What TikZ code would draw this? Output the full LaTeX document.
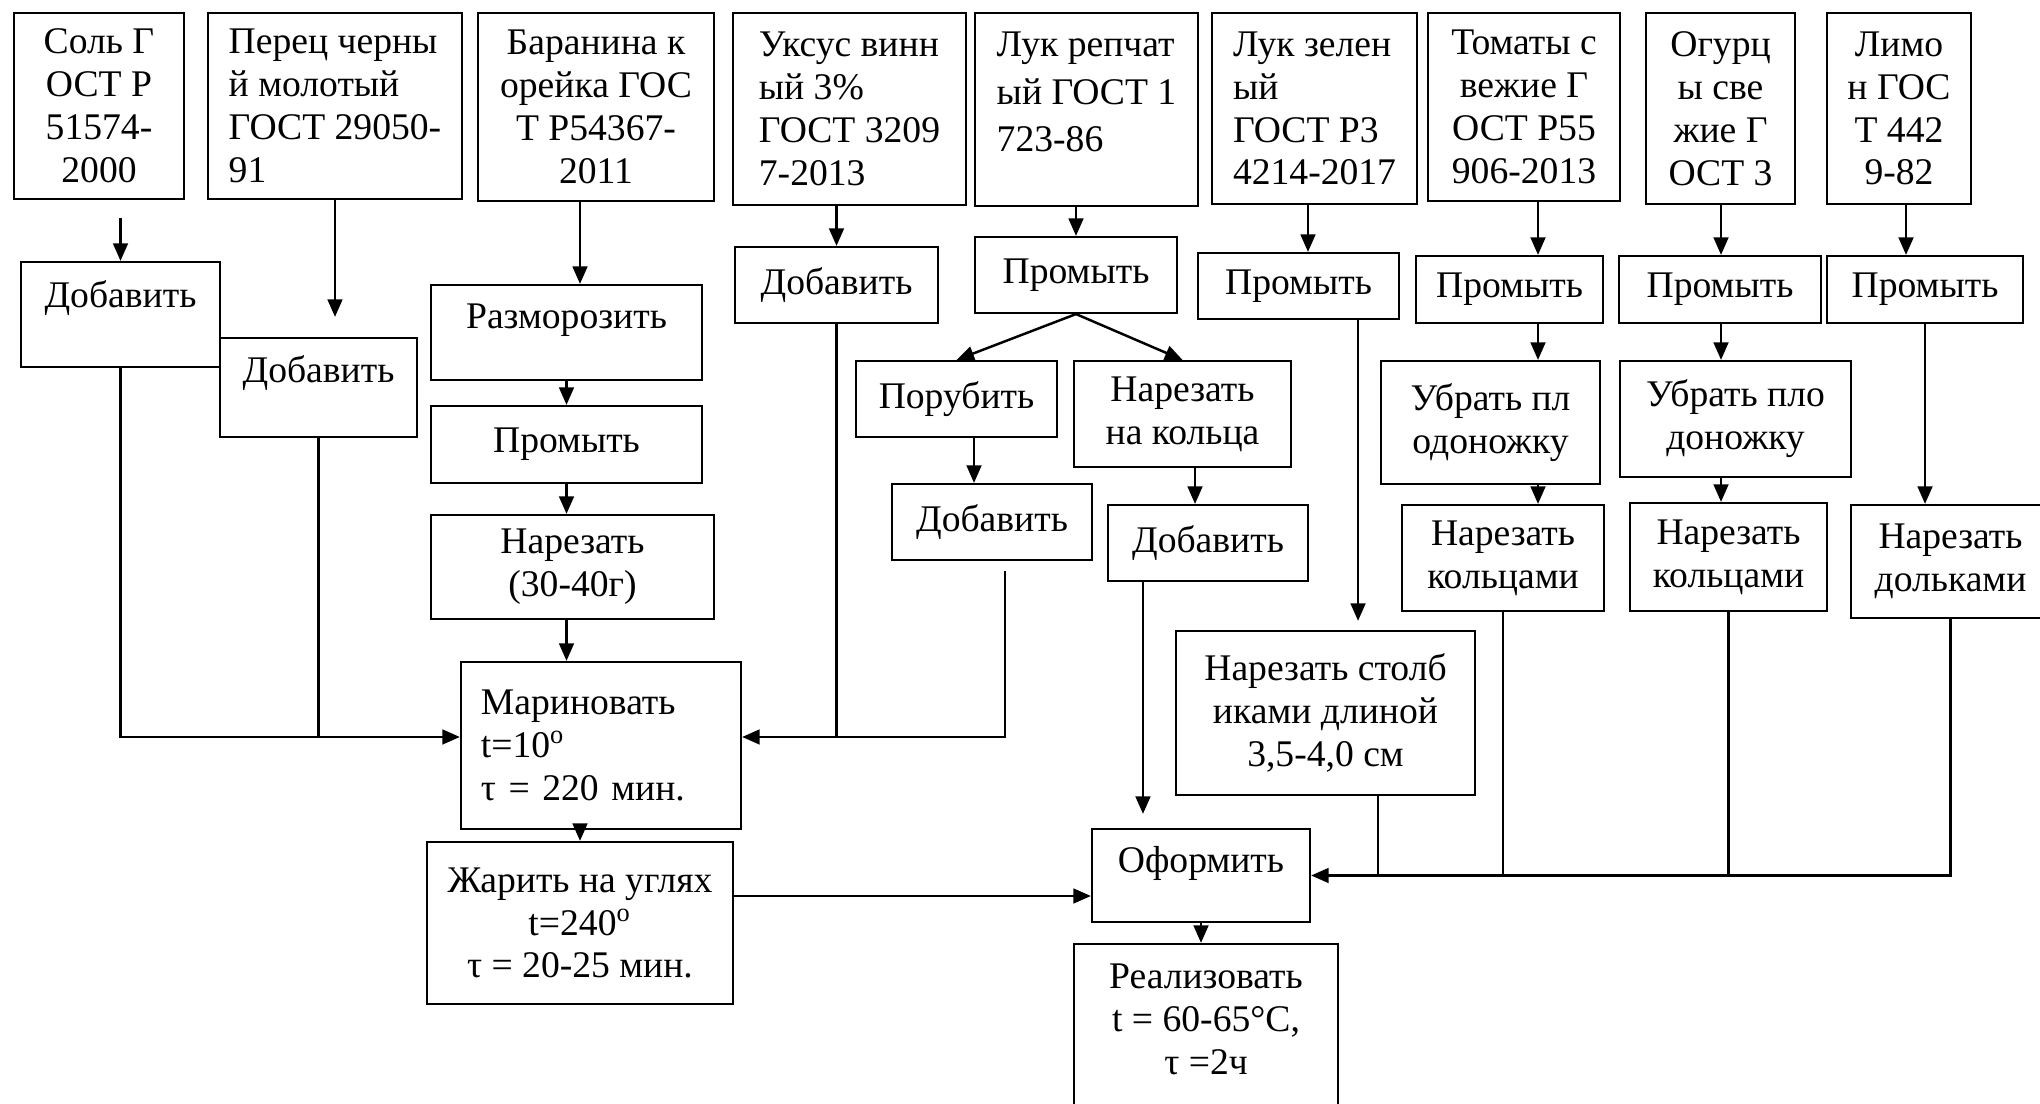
\documentclass[tikz,border=0pt]{standalone}
\usepackage{fontspec}
\setmainfont{Liberation Serif}
\usepackage{tikz}
\usetikzlibrary{arrows.meta}

\begin{document}
\begin{tikzpicture}[
    x=0.01cm, y=-0.01cm,
    >={Triangle[length=5pt, width=4.2pt]},
    stepbox/.style={draw, line width=0.6pt, align=center, inner sep=2pt,
        font=\fontsize{10.7pt}{12.2pt}\selectfont},
    topalign/.style={text height=0.26cm, text depth=#1},
    flow/.style={->, line width=0.7pt},
    joinline/.style={line width=0.6pt}
]
    \useasboundingbox (0,0) rectangle (2040,1104);

    \node[stepbox, minimum width=1.70cm, minimum height=1.86cm] (salt) at (99,106)
        {Соль Г\\ОСТ Р\\51574-\\2000};
    \node[stepbox, align=left, minimum width=2.54cm, minimum height=1.86cm] (pepper) at (335,106)
        {Перец черны\\й молотый\\ГОСТ 29050-\\91};
    \node[stepbox, minimum width=2.36cm, minimum height=1.88cm] (lamb) at (596,107)
        {Баранина к\\орейка ГОС\\Т Р54367-\\2011};
    \node[stepbox, align=left, minimum width=2.33cm, minimum height=1.92cm] (vinegar) at (849.5,109)
        {Уксус винн\\ый 3\%\\ГОСТ 3209\\7-2013};
    \node[stepbox, align=left, minimum width=2.23cm, minimum height=1.93cm,
        font=\fontsize{10.7pt}{13.5pt}\selectfont] (onion) at (1086.5,109.5)
        {Лук репчат\\ый ГОСТ 1\\723-86\\[-0.12cm]\mbox{}};
    \node[stepbox, align=left, minimum width=2.05cm, minimum height=1.91cm] (greenonion) at (1314.5,108.5)
        {Лук зелен\\ый\\ГОСТ Р3\\4214-2017};
    \node[stepbox, minimum width=1.92cm, minimum height=1.88cm] (tomato) at (1524,107)
        {Томаты с\\вежие Г\\ОСТ Р55\\906-2013};
    \node[stepbox, minimum width=1.49cm, minimum height=1.91cm] (cucumber) at (1720.5,108.5)
        {Огурц\\ы све\\жие Г\\ОСТ 3};
    \node[stepbox, minimum width=1.44cm, minimum height=1.91cm] (lemon) at (1899,108.5)
        {Лимо\\н ГОС\\Т 442\\9-82};

    \node[stepbox, topalign=0.39cm, minimum width=1.99cm, minimum height=1.05cm] (addsalt) at (120.5,314.5) {Добавить};
    \node[stepbox, topalign=0.35cm, minimum width=1.97cm, minimum height=0.99cm] (addpepper) at (318.5,387.5) {Добавить};
    \node[stepbox, topalign=0.33cm, minimum width=2.71cm, minimum height=0.95cm] (thaw) at (566.5,332.5) {Разморозить};
    \node[stepbox, minimum width=2.71cm, minimum height=0.77cm] (washlamb) at (566.5,444.5) {Промыть};
    \node[stepbox, minimum width=2.83cm, minimum height=1.04cm] (cutlamb) at (572.5,567) {Нарезать\\(30-40г)};
    \node[stepbox, align=left, text width=2.40cm, inner xsep=0.20cm, minimum height=1.67cm] (marinate) at (601,745.5)
        {Мариновать\\t=10\textsuperscript{o}\\τ = 220 мин.};
    \node[stepbox, minimum width=3.06cm, minimum height=1.62cm] (fry) at (580,923)
        {Жарить на углях\\t=240\textsuperscript{o}\\τ = 20-25 мин.};

    \node[stepbox, minimum width=2.03cm, minimum height=0.76cm] (addvinegar) at (836.5,285) {Добавить};
    \node[stepbox, minimum width=2.02cm, minimum height=0.76cm] (washonion) at (1076,275) {Промыть};
    \node[stepbox, minimum width=2.01cm, minimum height=0.76cm] (chop) at (956.5,399) {Порубить};
    \node[stepbox, minimum width=2.17cm, minimum height=1.06cm] (rings) at (1182.5,414) {Нарезать\\на кольца};
    \node[stepbox, minimum width=2.00cm, minimum height=0.76cm] (addchop) at (992,522) {Добавить};
    \node[stepbox, minimum width=2.00cm, minimum height=0.76cm] (addrings) at (1208,543) {Добавить};
    \node[stepbox, minimum width=2.01cm, minimum height=0.66cm] (washgreen) at (1298.5,286) {Промыть};
    \node[stepbox, minimum width=2.99cm, minimum height=1.64cm] (sticks) at (1325.5,713)
        {Нарезать столб\\иками длиной\\3,5-4,0 см};
    \node[stepbox, topalign=0.31cm, minimum width=2.18cm, minimum height=0.93cm] (decorate) at (1201,875.5) {Оформить};
    \node[stepbox, minimum width=2.64cm, minimum height=1.68cm] (serve) at (1206,1028)
        {Реализовать\\t = 60-65°C,\\τ =2ч\\[-0.25cm]\mbox{}};

    \node[stepbox, minimum width=1.87cm, minimum height=0.67cm] (washtomato) at (1509.5,289.5) {Промыть};
    \node[stepbox, minimum width=2.19cm, minimum height=1.23cm] (stemtomato) at (1490.5,422.5) {Убрать пл\\одоножку};
    \node[stepbox, minimum width=2.02cm, minimum height=1.06cm] (ringstomato) at (1503,558) {Нарезать\\кольцами};
    \node[stepbox, minimum width=2.02cm, minimum height=0.67cm] (washcucumber) at (1720,289.5) {Промыть};
    \node[stepbox, minimum width=2.31cm, minimum height=1.16cm] (stemcucumber) at (1735.5,419) {Убрать пло\\доножку};
    \node[stepbox, minimum width=1.97cm, minimum height=1.08cm] (ringscucumber) at (1728.5,557) {Нарезать\\кольцами};
    \node[stepbox, minimum width=1.96cm, minimum height=0.67cm] (washlemon) at (1925,289.5) {Промыть};
    \node[stepbox, minimum width=1.99cm, minimum height=1.13cm] (sliceslemon) at (1950.5,561.5) {Нарезать\\дольками};

    \coordinate (tomatoaxis) at (1538,0);
    \coordinate (cucumberaxis) at (1721,0);
    \coordinate (lemonaxis) at (1906,0);
    \coordinate (leftjoin) at ([yshift=0.085cm]marinate.west);
    \coordinate (rightjoin) at ([yshift=0.085cm]marinate.east);
    \coordinate (fryjoin) at ([yshift=-0.205cm]decorate.west);
    \coordinate (lambdrop) at ([xshift=0.135cm]thaw.north);
    \coordinate (chopdrop) at ([xshift=0.175cm]chop.south);
    \coordinate (ringsdrop) at ([xshift=0.125cm]rings.south);
    \coordinate (addchopdrop) at ([xshift=0.13cm]addchop.south);
    \coordinate (addringsdrop) at ([xshift=-0.65cm]addrings.south);
    \coordinate (greendrop) at ([xshift=-0.065cm]greenonion.south);
    \coordinate (washgreendrop) at ([xshift=0.595cm]washgreen.south);
    \coordinate (sticksdrop) at ([xshift=0.525cm]sticks.south);

    \draw[flow, shorten <=0.18cm] (salt.south -| addsalt.north) -- (addsalt.north);
    \draw[flow, shorten >=0.2cm] (pepper.south) -- (pepper.south |- addpepper.north);
    \draw[flow] (lambdrop |- lamb.south) -- (lambdrop);
    \draw[flow] (thaw.south) -- (washlamb.north);
    \draw[flow] (washlamb.south) -- (washlamb.south |- cutlamb.north);
    \draw[flow] (washlamb.south |- cutlamb.south) -- (washlamb.south |- marinate.north);
    \draw[flow] (fry.north |- marinate.south) -- (fry.north);
    \draw[flow] (addsalt.south) |- (leftjoin);
    \draw[joinline] (addpepper.south) -- (addpepper.south |- leftjoin);

    \draw[flow] (vinegar.south -| addvinegar.north) -- (addvinegar.north);
    \draw[joinline] (addvinegar.south) -- (addvinegar.south |- rightjoin);
    \draw[flow, shorten <=0.1cm] (addchopdrop) |- (rightjoin);
    \draw[flow] (onion.south -| washonion.north) -- (washonion.north);
    \draw[flow] (washonion.south) -- (chop.north);
    \draw[flow] (washonion.south) -- (rings.north);
    \draw[flow] (chopdrop) -- (chopdrop |- addchop.north);
    \draw[flow] (ringsdrop) -- (ringsdrop |- addrings.north);
    \draw[flow, shorten >=0.14cm] (addringsdrop) -- (addringsdrop |- decorate.north);
    \draw[flow] (fry.east |- fryjoin) -- (fryjoin);
    \draw[flow] (decorate.south) -- (decorate.south |- serve.north);

    \draw[flow] (greendrop) -- (greendrop |- washgreen.north);
    \draw[flow, shorten >=0.09cm] (washgreendrop) -- (washgreendrop |- sticks.north);
    \draw[joinline] (sticksdrop) -- (sticksdrop |- decorate.east);

    \draw[flow] (tomato.south -| tomatoaxis) -- (washtomato.north -| tomatoaxis);
    \draw[flow] (washtomato.south -| tomatoaxis) -- (stemtomato.north -| tomatoaxis);
    \draw[flow] (stemtomato.south -| tomatoaxis) -- (ringstomato.north -| tomatoaxis);
    \draw[joinline] (ringstomato.south) -- (ringstomato.south |- decorate.east);
    \draw[flow] (cucumber.south -| cucumberaxis) -- (washcucumber.north -| cucumberaxis);
    \draw[flow] (washcucumber.south -| cucumberaxis) -- (stemcucumber.north -| cucumberaxis);
    \draw[flow] (stemcucumber.south -| cucumberaxis) -- (ringscucumber.north -| cucumberaxis);
    \draw[joinline] (ringscucumber.south) -- (ringscucumber.south |- decorate.east);
    \draw[flow] (lemon.south -| lemonaxis) -- (washlemon.north -| lemonaxis);
    \draw[flow] (washlemon.south) -- (washlemon.south |- sliceslemon.north);
    \draw[flow] (sliceslemon.south) |- (decorate.east);
\end{tikzpicture}
\end{document}
